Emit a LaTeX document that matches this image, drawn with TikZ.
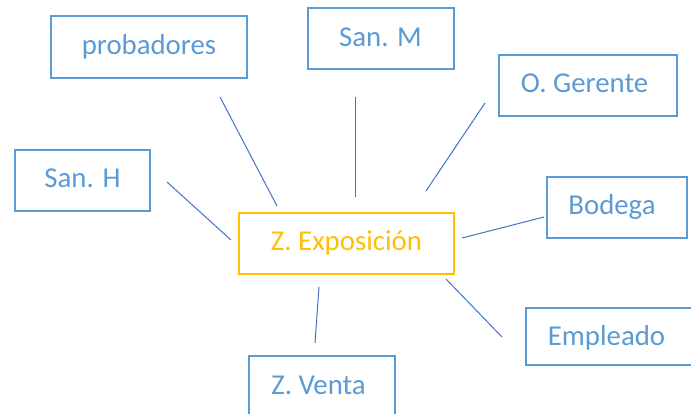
\documentclass[tikz,border=0pt]{standalone}
\usepackage{fontspec}
\setmainfont{Carlito}
\definecolor{boxblue}{HTML}{5B9BD5}
\definecolor{lineblue}{HTML}{4472C4}
\definecolor{gold}{HTML}{FFC000}
\begin{document}
\begin{tikzpicture}[x=1pt,y=-1pt,
  box/.style={draw=boxblue,line width=1.7pt,rectangle,inner sep=0pt},
  hub/.style={draw=gold,line width=1.7pt,rectangle,inner sep=0pt},
  lbl/.style={text=boxblue,font=\fontsize{28.8}{34}\selectfont,inner sep=0pt,anchor=base},
  hublbl/.style={text=gold,font=\fontsize{28.8}{34}\selectfont,inner sep=0pt,anchor=base},
  conn/.style={draw=lineblue,line width=1pt}]
\useasboundingbox (0,0) rectangle (691,414);
\fill[white] (0,0) rectangle (691,414);
% boxes
\node[box,minimum width=196pt,minimum height=62pt] (probB) at (149,47) {};
\node[box,minimum width=146pt,minimum height=61pt] (smB) at (381,38.5) {};
\node[box,minimum width=178pt,minimum height=61pt] (ogB) at (588,85.5) {};
\node[box,minimum width=135pt,minimum height=61pt] (shB) at (82.5,180.5) {};
\node[hub,minimum width=215pt,minimum height=61pt] (zeB) at (346.5,243.5) {};
\node[box,minimum width=140pt,minimum height=61pt] (boB) at (617,207.5) {};
\node[box,minimum width=170pt,minimum height=57pt] (emB) at (611,336.5) {};
\node[box,minimum width=146pt,minimum height=62pt] (zvB) at (322,387) {};
% texts
\node[lbl] (prob) at (149,55) {probadores};
\node[lbl] (sm) at (380.5,47) {San. M};
\node[lbl] (og) at (584.5,92.7) {O. Gerente};
\node[lbl] (sh) at (82.5,188) {San. H};
\node[hublbl] (ze) at (346.5,251) {Z. Exposición};
\node[lbl] (bo) at (612,215) {Bodega};
\node[lbl] (em) at (606.5,345.7) {Empleado};
\node[lbl] (zv) at (318.5,394) {Z. Venta};
% connector ends
\coordinate (a1) at (220,97);  \coordinate (b1) at (277,206);
\coordinate (a2) at (355,97);  \coordinate (b2) at (355,197);
\coordinate (a3) at (485,103); \coordinate (b3) at (426,191);
\coordinate (a4) at (167,182); \coordinate (b4) at (231,240);
\coordinate (a5) at (544,217); \coordinate (b5) at (462,238);
\coordinate (a6) at (502,337); \coordinate (b6) at (446,279);
\coordinate (a7) at (315,343); \coordinate (b7) at (319,287);
\draw[conn] (a1) -- (b1);
\draw[conn] (a2) -- (b2);
\draw[conn] (a3) -- (b3);
\draw[conn] (a4) -- (b4);
\draw[conn] (a5) -- (b5);
\draw[conn] (a6) -- (b6);
\draw[conn] (a7) -- (b7);
\end{tikzpicture}
\end{document}
